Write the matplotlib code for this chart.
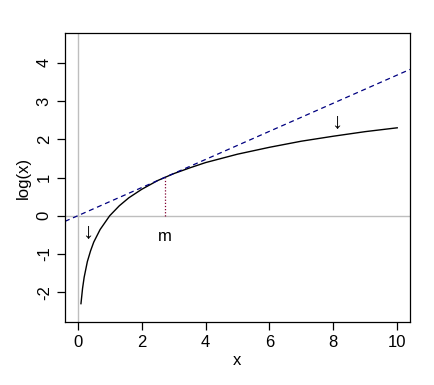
import matplotlib
matplotlib.use("Agg")
import matplotlib.pyplot as plt

plt.rcParams["font.family"] = ["Liberation Sans", "DejaVu Sans"]
plt.rcParams["axes.unicode_minus"] = False

# curve points
curve_x = [0.1, 0.15, 0.2, 0.3, 0.4, 0.5, 0.7, 1.0, 1.3, 1.6, 2.0, 2.5, 3.0,
           3.5, 4.0, 5.0, 6.0, 7.0, 8.0, 9.0, 10.0]
curve_y = [-2.30, -1.90, -1.61, -1.20, -0.92, -0.69, -0.36, 0.0, 0.26, 0.47,
           0.69, 0.92, 1.10, 1.25, 1.39, 1.61, 1.79, 1.95, 2.08, 2.20, 2.30]

tangent_point = (2.72, 1.0)
tangent_slope = 0.368

m_label = "m"
m_pos = (2.72, -0.55)
arrow_pos = [(0.3, -0.45), (8.1, 2.45)]

fig = plt.figure(figsize=(4.35, 3.85), dpi=100)
ax = fig.add_axes([0.1494, 0.1636, 0.7931, 0.7507])

ax.axhline(0, color="#bebebe", lw=1)
ax.axvline(0, color="#bebebe", lw=1)
ax.plot(curve_x, curve_y, color="black", lw=1)
ax.axline((0, 0), slope=tangent_slope, color="#000080", lw=0.9, ls=(0, (4, 3)))
ax.plot([tangent_point[0], tangent_point[0]], [0, tangent_point[1]],
        color="#800030", lw=0.9, ls=(0, (1, 1.5)))

ax.text(m_pos[0], m_pos[1], m_label, ha="center", va="center", fontsize=12)
for ax_x, ax_y in arrow_pos:
    ax.text(ax_x, ax_y, "\u2193", ha="center", va="center", fontsize=16)

ax.set_xlim(-0.4, 10.4)
ax.set_ylim(-2.78, 4.78)
ax.set_xticks([0, 2, 4, 6, 8, 10])
ax.set_yticks([-2, -1, 0, 1, 2, 3, 4])
ax.tick_params(direction="out", length=6, labelsize=12, width=0.9)
for lab in ax.get_yticklabels():
    lab.set_rotation(90)
    lab.set_va("center")
for sp in ax.spines.values():
    sp.set_linewidth(0.9)

ax.set_xlabel("x", fontsize=12, labelpad=2)
ax.set_ylabel("log(x)", fontsize=12, labelpad=4)

fig.savefig("out.png", dpi=100)
